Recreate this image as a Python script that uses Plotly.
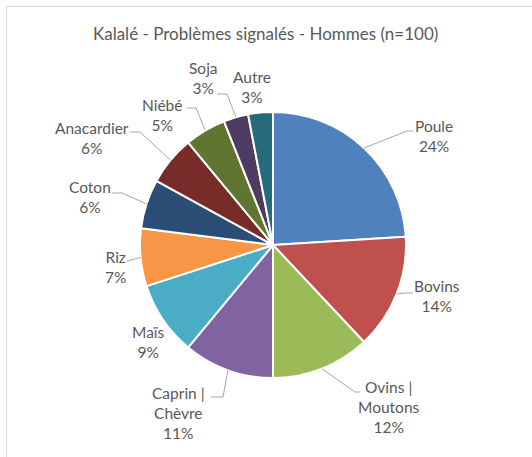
import math
import plotly.graph_objects as go

# ---- data ----
categories = ["Poule", "Bovins", "Ovins |<br>Moutons", "Caprin |<br>Chèvre", "Maïs", "Riz",
              "Coton", "Anacardier", "Niébé", "Soja", "Autre"]
values = [24, 14, 12, 11, 9, 7, 6, 6, 5, 3, 3]
colors = ["#4F81BD", "#C0504D", "#9BBB59", "#8064A2", "#4BACC6", "#F79646",
          "#2C4D75", "#772C2A", "#5F7530", "#4D3B62", "#276A7C"]
title_text = "Kalalé - Problèmes signalés - Hommes (n=100)"

# ---- layout (pixels in a 532x457 page) ----
W, H = 532, 457
CX, CY, R = 273, 245, 133
FONT = "Lato"
TXT = "#595959"
# label text centres
label_pos = [(434, 136), (437, 296), (389, 407), (178, 413), (148, 342), (115, 267),
             (90, 197), (92, 138), (162, 115), (203, 78), (252, 87)]
# leader: (attach x, attach y, elbow dx) or None
leaders = [(413, 131, -6), (413, 293, -8), (360, 392, -5), (211, 397, 12), None,
           (127, 261, 0), (112, 193, 10), (130, 132, 10), (187, 108, 9), (217, 94, 10), None]


def px(x):
    return x / W


def py(y):
    return 1 - y / H


fig = go.Figure(go.Pie(
    labels=categories, values=values, sort=False, direction="clockwise", rotation=0,
    marker=dict(colors=colors, line=dict(color="white", width=2)),
    textinfo="none", hoverinfo="label+percent",
    domain=dict(x=[px(CX - R), px(CX + R)], y=[py(CY + R), py(CY - R)]),
    showlegend=False,
))

total = sum(values)
cum = 0
annotations = []
shapes = []
for cat, v, pos, ld in zip(categories, values, label_pos, leaders):
    mid = (cum + v / 2) / total * 2 * math.pi
    cum += v
    pct = round(v / total * 100)
    annotations.append(dict(
        x=px(pos[0]), y=py(pos[1]), xref="paper", yref="paper",
        text=f"{cat}<br>{pct}%", showarrow=False, align="center",
        font=dict(family=FONT, size=15.5, color=TXT),
        xanchor="center", yanchor="middle"))
    if ld is not None:
        ex = CX + R * math.sin(mid)
        ey = CY - R * math.cos(mid)
        ax, ay, dx = ld
        path = f"M {px(ex)} {py(ey)} L {px(ax + dx)} {py(ay)} L {px(ax)} {py(ay)}"
        shapes.append(dict(type="path", xref="paper", yref="paper", path=path,
                           line=dict(color="#A6A6A6", width=1)))

# chart frame (top and left edges)
shapes.append(dict(type="line", xref="paper", yref="paper", x0=px(6.5), x1=1,
                   y0=py(6.5), y1=py(6.5), line=dict(color="#D9D9D9", width=1)))
shapes.append(dict(type="line", xref="paper", yref="paper", x0=px(6.5), x1=px(6.5),
                   y0=py(6.5), y1=0, line=dict(color="#D9D9D9", width=1)))

annotations.append(dict(x=px(265), y=py(33), xref="paper", yref="paper",
                        text=title_text, showarrow=False,
                        font=dict(family=FONT, size=17, color=TXT),
                        xanchor="center", yanchor="middle"))

fig.update_layout(
    width=W, height=H, margin=dict(l=0, r=0, t=0, b=0),
    paper_bgcolor="white", plot_bgcolor="white",
    annotations=annotations, shapes=shapes,
)
fig.write_html("out.html", config={"displayModeBar": False},
               post_script="document.body.style.margin='0';document.body.style.overflow='hidden';")
